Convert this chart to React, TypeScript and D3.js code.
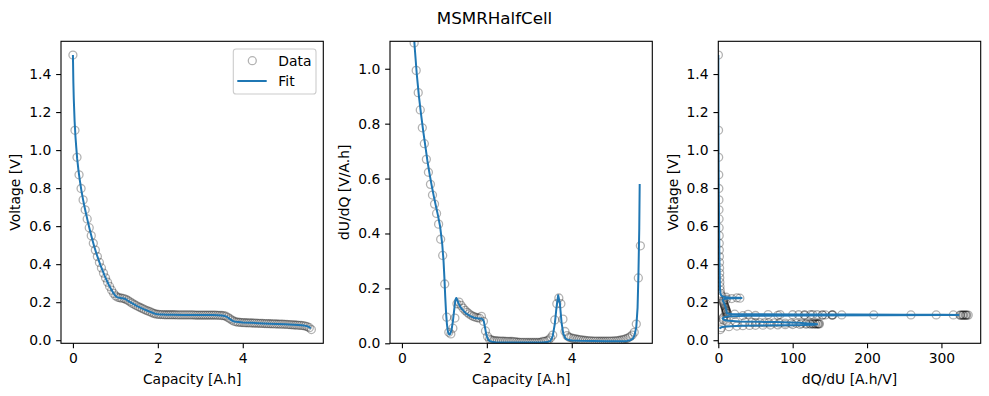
import React, { useEffect, useRef } from "react";
import * as d3 from "d3";

// measured data (capacity in A.h)
const capacity = [
  0, 0.048, 0.096, 0.144, 0.192, 0.24, 0.288, 0.336, 0.384, 0.432,
  0.48, 0.528, 0.576, 0.624, 0.672, 0.72, 0.768, 0.816, 0.864, 0.912,
  0.96, 1.008, 1.056, 1.104, 1.152, 1.2, 1.248, 1.296, 1.344, 1.392,
  1.44, 1.488, 1.536, 1.584, 1.632, 1.68, 1.728, 1.776, 1.824, 1.872,
  1.92, 1.968, 2.016, 2.064, 2.112, 2.16, 2.208, 2.256, 2.304, 2.352,
  2.4, 2.448, 2.496, 2.544, 2.592, 2.64, 2.688, 2.736, 2.784, 2.832,
  2.88, 2.928, 2.976, 3.024, 3.072, 3.12, 3.168, 3.216, 3.264, 3.312,
  3.36, 3.408, 3.456, 3.504, 3.552, 3.6, 3.648, 3.696, 3.744, 3.792,
  3.84, 3.888, 3.936, 3.984, 4.032, 4.08, 4.128, 4.176, 4.224, 4.272,
  4.32, 4.368, 4.416, 4.464, 4.512, 4.56, 4.608, 4.656, 4.704, 4.752,
  4.8, 4.848, 4.896, 4.944, 4.992, 5.04, 5.088, 5.136, 5.184, 5.232,
  5.28, 5.328, 5.376, 5.424, 5.472, 5.52, 5.568, 5.616,
];

const voltage = [
  1.5, 1.104, 0.962, 0.87, 0.798, 0.738, 0.686, 0.638, 0.592, 0.55,
  0.51, 0.474, 0.44, 0.409, 0.38, 0.353, 0.328, 0.305, 0.283, 0.263,
  0.246, 0.233, 0.226, 0.223, 0.221, 0.219, 0.215, 0.209, 0.202, 0.195,
  0.189, 0.183, 0.177, 0.172, 0.167, 0.162, 0.157, 0.153, 0.149, 0.144,
  0.14, 0.137, 0.136, 0.135, 0.135, 0.134, 0.134, 0.134, 0.134, 0.134,
  0.134, 0.133, 0.133, 0.133, 0.133, 0.133, 0.133, 0.133, 0.133, 0.133,
  0.132, 0.132, 0.132, 0.132, 0.132, 0.132, 0.132, 0.132, 0.132, 0.132,
  0.132, 0.131, 0.131, 0.13, 0.129, 0.126, 0.12, 0.113, 0.106, 0.1,
  0.097, 0.095, 0.094, 0.093, 0.0925, 0.092, 0.0915, 0.091, 0.0905, 0.09,
  0.0895, 0.089, 0.0886, 0.0882, 0.0878, 0.0874, 0.087, 0.0866, 0.0862, 0.0858,
  0.0854, 0.085, 0.0846, 0.0842, 0.0836, 0.083, 0.0823, 0.0816, 0.0808, 0.08,
  0.0792, 0.0784, 0.0776, 0.0765, 0.0745, 0.071, 0.066, 0.056,
];

const dUdQ = [
  9.0, 3.0, 2.0, 1.65, 1.4, 1.2, 1.094, 0.994, 0.913, 0.85,
  0.785, 0.727, 0.67, 0.623, 0.579, 0.54, 0.507, 0.473, 0.434, 0.379,
  0.32, 0.216, 0.095, 0.04, 0.034, 0.055, 0.092, 0.144, 0.15, 0.138,
  0.128, 0.12, 0.113, 0.107, 0.102, 0.098, 0.095, 0.093, 0.092, 0.098,
  0.08, 0.045, 0.025, 0.015, 0.012, 0.01, 0.0093, 0.0086, 0.0081, 0.0079,
  0.0075, 0.0071, 0.0069, 0.0065, 0.0065, 0.006, 0.0048, 0.0039, 0.0034, 0.0032,
  0.0031, 0.003, 0.003, 0.003, 0.003, 0.003, 0.003, 0.003, 0.0031, 0.0065,
  0.0071, 0.0086, 0.0125, 0.02, 0.03, 0.085, 0.144, 0.165, 0.144, 0.088,
  0.043, 0.028, 0.022, 0.02, 0.018, 0.016, 0.0147, 0.0133, 0.0122, 0.0111,
  0.0102, 0.0095, 0.0089, 0.0085, 0.0081, 0.0079, 0.0077, 0.0075, 0.0074, 0.0074,
  0.0075, 0.0076, 0.0078, 0.0081, 0.0085, 0.0091, 0.01, 0.0111, 0.0125, 0.0143,
  0.0167, 0.02, 0.024, 0.03, 0.04, 0.07, 0.238, 0.355,
];

const dQdU = [
  0.11, 0.33, 0.5, 0.61, 0.71, 0.83, 0.91, 1.0, 1.1, 1.18,
  1.27, 1.38, 1.49, 1.6, 1.73, 1.85, 1.97, 2.11, 2.3, 2.64,
  3.1, 4.6, 10.5, 25, 29, 18, 10.9, 6.9, 6.7, 7.2,
  7.8, 8.3, 8.8, 9.3, 9.8, 10.2, 10.5, 10.8, 10.9, 10.2,
  12.5, 22, 40, 67, 83, 100, 108, 116, 124, 127,
  133, 140, 144, 153, 154, 166, 209, 259, 293, 316,
  325, 328, 330, 332, 334, 336, 333, 329, 326, 153,
  140, 116, 80, 50, 33, 11.8, 6.9, 6.1, 6.9, 11.4,
  23, 36, 45, 50, 56, 62, 68, 75, 82, 90,
  98, 105, 112, 118, 123, 127, 130, 133, 135, 136,
  134, 131, 128, 124, 118, 110, 100, 90, 80, 70,
  60, 50, 42, 33, 25, 14.3, 4.2, 2.8,
];

// MSMR fit
const fitCapacity = [
  0, 0.01, 0.02, 0.04, 0.06, 0.08, 0.1, 0.13, 0.16, 0.2,
  0.24, 0.27, 0.3, 0.35, 0.4, 0.45, 0.5, 0.55, 0.6, 0.65,
  0.7, 0.75, 0.8, 0.85, 0.9, 0.95, 0.98, 1.0, 1.02, 1.04,
  1.06, 1.08, 1.1, 1.12, 1.14, 1.17, 1.2, 1.23, 1.26, 1.28,
  1.31, 1.35, 1.4, 1.5, 1.6, 1.7, 1.8, 1.86, 1.9, 1.93,
  1.96, 1.99, 2.02, 2.06, 2.12, 2.2, 2.35, 2.6, 3.0, 3.3,
  3.42, 3.5, 3.55, 3.6, 3.64, 3.68, 3.72, 3.76, 3.8, 3.85,
  3.9, 4.0, 4.2, 4.5, 4.8, 5.0, 5.2, 5.3, 5.38, 5.44,
  5.48, 5.52, 5.55, 5.57, 5.59, 5.6,
];

const fitVoltage = [
  1.5, 1.36, 1.27, 1.15, 1.07, 1.01, 0.955, 0.895, 0.845, 0.787,
  0.738, 0.705, 0.674, 0.625, 0.578, 0.535, 0.494, 0.458, 0.425, 0.394,
  0.366, 0.337, 0.313, 0.289, 0.268, 0.249, 0.24, 0.234, 0.23, 0.227,
  0.225, 0.224, 0.223, 0.222, 0.221, 0.2205, 0.219, 0.217, 0.213, 0.21,
  0.206, 0.2, 0.194, 0.181, 0.17, 0.16, 0.151, 0.146, 0.142, 0.14,
  0.138, 0.137, 0.1362, 0.1355, 0.135, 0.1345, 0.134, 0.1333, 0.1325, 0.132,
  0.1313, 0.13, 0.1285, 0.1255, 0.121, 0.115, 0.108, 0.102, 0.0985, 0.0965,
  0.0955, 0.0935, 0.0915, 0.0885, 0.0858, 0.0842, 0.0815, 0.08, 0.0785, 0.077,
  0.0755, 0.0735, 0.071, 0.068, 0.064, 0.061,
];

const fitDUdQ = [
  25, 11, 7.5, 4.8, 3.5, 2.8, 2.35, 1.95, 1.7, 1.45,
  1.27, 1.16, 1.08, 0.98, 0.9, 0.835, 0.775, 0.72, 0.665, 0.618,
  0.575, 0.536, 0.5, 0.465, 0.425, 0.36, 0.3, 0.24, 0.17, 0.11,
  0.07, 0.045, 0.035, 0.032, 0.035, 0.05, 0.08, 0.12, 0.158, 0.165,
  0.155, 0.14, 0.127, 0.11, 0.1, 0.093, 0.09, 0.09, 0.088, 0.08,
  0.055, 0.03, 0.017, 0.009, 0.0055, 0.004, 0.0033, 0.0031, 0.0031, 0.0033,
  0.0045, 0.009, 0.025, 0.07, 0.13, 0.175, 0.145, 0.075, 0.035, 0.018,
  0.013, 0.0105, 0.0092, 0.0083, 0.0077, 0.0075, 0.0078, 0.0088, 0.011, 0.017,
  0.03, 0.06, 0.13, 0.25, 0.42, 0.58,
];

const fitDQdU = [
  0.04, 0.09, 0.13, 0.21, 0.29, 0.36, 0.43, 0.51, 0.59, 0.69,
  0.79, 0.86, 0.93, 1.02, 1.11, 1.2, 1.29, 1.39, 1.5, 1.62,
  1.74, 1.87, 2.0, 2.15, 2.35, 2.78, 3.33, 4.17, 5.9, 9.1,
  14.3, 22, 28.6, 31.3, 28.6, 20, 12.5, 8.3, 6.3, 6.1,
  6.5, 7.1, 7.9, 9.1, 10, 10.8, 11.1, 11.1, 11.4, 12.5,
  18, 33, 59, 111, 182, 250, 303, 323, 323, 303,
  222, 111, 40, 14.3, 7.7, 5.7, 6.9, 13.3, 28.6, 56,
  77, 95, 109, 120, 130, 133, 128, 114, 91, 59,
  33, 16.7, 7.7, 4, 2.4, 1.7,
];

const capacityTicks = [0, 2, 4];
const voltageTicks = [0, 0.2, 0.4, 0.6, 0.8, 1.0, 1.2, 1.4];
const dUdQTicks = [0, 0.2, 0.4, 0.6, 0.8, 1.0];
const dQdUTicks = [0, 100, 200, 300];

const W = 989;
const H = 396;
const TOP = 41.3;
const BOTTOM = 343.3;
const FONT = "DejaVu Sans, sans-serif";
const FS = 13.9;
const TICK = 4.86;
const BLUE = "#1f77b4";

// matplotlib style 5% margins
const pad = (ext) => {
  const r = ext[1] - ext[0];
  return [ext[0] - 0.05 * r, ext[1] + 0.05 * r];
};

function drawPanel(svg, cfg) {
  const x = d3.scaleLinear().domain(cfg.xDomain).range([cfg.left, cfg.right]);
  const y = d3.scaleLinear().domain(cfg.yDomain).range([BOTTOM, TOP]);

  svg
    .append("clipPath")
    .attr("id", cfg.id)
    .append("rect")
    .attr("x", cfg.left)
    .attr("y", TOP)
    .attr("width", cfg.right - cfg.left)
    .attr("height", BOTTOM - TOP);

  const plot = svg.append("g").attr("clip-path", `url(#${cfg.id})`);

  // data points
  plot
    .selectAll("circle")
    .data(d3.range(cfg.xs.length))
    .join("circle")
    .attr("cx", (i) => x(cfg.xs[i]))
    .attr("cy", (i) => y(cfg.ys[i]))
    .attr("r", 4)
    .attr("fill", "none")
    .attr("stroke", "#000")
    .attr("stroke-opacity", 0.3)
    .attr("stroke-width", 1.3);

  // fit line
  const line = d3
    .line()
    .x((i) => x(cfg.fitXs[i]))
    .y((i) => y(cfg.fitYs[i]));
  plot
    .append("path")
    .attr("d", line(d3.range(cfg.fitXs.length)))
    .attr("fill", "none")
    .attr("stroke", BLUE)
    .attr("stroke-width", 2)
    .attr("stroke-linejoin", "round");

  // axes
  const xAxis = svg
    .append("g")
    .attr("transform", `translate(0, ${BOTTOM})`)
    .call(
      d3
        .axisBottom(x)
        .tickValues(cfg.xTicks)
        .tickFormat(d3.format("d"))
        .tickSizeInner(TICK)
        .tickSizeOuter(0)
        .tickPadding(4.9)
    );
  const yAxis = svg
    .append("g")
    .attr("transform", `translate(${cfg.left}, 0)`)
    .call(
      d3
        .axisLeft(y)
        .tickValues(cfg.yTicks)
        .tickFormat(d3.format(".1f"))
        .tickSizeInner(TICK)
        .tickSizeOuter(0)
        .tickPadding(4.9)
    );
  [xAxis, yAxis].forEach((a) => {
    a.select(".domain").remove();
    a.selectAll("line").attr("stroke", "#000").attr("stroke-width", 1.1);
    a.selectAll("text")
      .attr("font-family", FONT)
      .attr("font-size", FS)
      .attr("fill", "#000");
  });

  // spines
  svg
    .append("rect")
    .attr("x", cfg.left)
    .attr("y", TOP)
    .attr("width", cfg.right - cfg.left)
    .attr("height", BOTTOM - TOP)
    .attr("fill", "none")
    .attr("stroke", "#000")
    .attr("stroke-width", 1.1);

  svg
    .append("text")
    .attr("x", (cfg.left + cfg.right) / 2)
    .attr("y", 383.5)
    .attr("text-anchor", "middle")
    .attr("font-family", FONT)
    .attr("font-size", FS)
    .text(cfg.xLabel);

  svg
    .append("text")
    .attr("transform", `translate(${cfg.left - 40.7}, ${(TOP + BOTTOM) / 2}) rotate(-90)`)
    .attr("text-anchor", "middle")
    .attr("font-family", FONT)
    .attr("font-size", FS)
    .text(cfg.yLabel);
}

function App() {
  const svgRef = useRef(null);

  useEffect(() => {
    const svg = d3.select(svgRef.current);
    svg.selectAll("*").remove();

    const capDomain = pad(d3.extent([...capacity, ...fitCapacity]));
    const voltDomain = pad(d3.extent([...voltage, ...fitVoltage]));
    const dqduDomain = [0, pad(d3.extent([...dQdU, ...fitDQdU]))[1]];

    svg
      .append("text")
      .attr("x", W / 2)
      .attr("y", 24)
      .attr("text-anchor", "middle")
      .attr("font-family", FONT)
      .attr("font-size", 16.7)
      .text("MSMRHalfCell");

    drawPanel(svg, {
      id: "clip-v",
      left: 61,
      right: 323.3,
      xDomain: capDomain,
      yDomain: voltDomain,
      xs: capacity,
      ys: voltage,
      fitXs: fitCapacity,
      fitYs: fitVoltage,
      xTicks: capacityTicks,
      yTicks: voltageTicks,
      xLabel: "Capacity [A.h]",
      yLabel: "Voltage [V]",
    });

    drawPanel(svg, {
      id: "clip-dudq",
      left: 390,
      right: 652.3,
      xDomain: capDomain,
      yDomain: [0, 1.1],
      xs: capacity,
      ys: dUdQ,
      fitXs: fitCapacity,
      fitYs: fitDUdQ,
      xTicks: capacityTicks,
      yTicks: dUdQTicks,
      xLabel: "Capacity [A.h]",
      yLabel: "dU/dQ [V/A.h]",
    });

    drawPanel(svg, {
      id: "clip-dqdu",
      left: 718.3,
      right: 980.7,
      xDomain: dqduDomain,
      yDomain: voltDomain,
      xs: dQdU,
      ys: voltage,
      fitXs: fitDQdU,
      fitYs: fitVoltage,
      xTicks: dQdUTicks,
      yTicks: voltageTicks,
      xLabel: "dQ/dU [A.h/V]",
      yLabel: "Voltage [V]",
    });

    // legend on the first panel
    const lg = svg.append("g");
    lg.append("rect")
      .attr("x", 233.3)
      .attr("y", 49)
      .attr("width", 82.7)
      .attr("height", 45)
      .attr("rx", 2.8)
      .attr("fill", "#fff")
      .attr("fill-opacity", 0.8)
      .attr("stroke", "#cccccc")
      .attr("stroke-width", 1.1);
    lg.append("circle")
      .attr("cx", 252.3)
      .attr("cy", 60.7)
      .attr("r", 4)
      .attr("fill", "none")
      .attr("stroke", "#000")
      .attr("stroke-opacity", 0.3)
      .attr("stroke-width", 1.3);
    lg.append("line")
      .attr("x1", 237.3)
      .attr("x2", 266.7)
      .attr("y1", 81)
      .attr("y2", 81)
      .attr("stroke", BLUE)
      .attr("stroke-width", 2);
    [
      ["Data", 60.7],
      ["Fit", 81],
    ].forEach(([label, cy]) => {
      lg.append("text")
        .attr("x", 278.3)
        .attr("y", cy)
        .attr("dy", "0.36em")
        .attr("font-family", FONT)
        .attr("font-size", FS)
        .text(label);
    });
  }, []);

  return (
    <svg
      ref={svgRef}
      width={W}
      height={H}
      style={{ position: "absolute", left: 0, top: 0, background: "#fff" }}
    ></svg>
  );
}

export default App;
